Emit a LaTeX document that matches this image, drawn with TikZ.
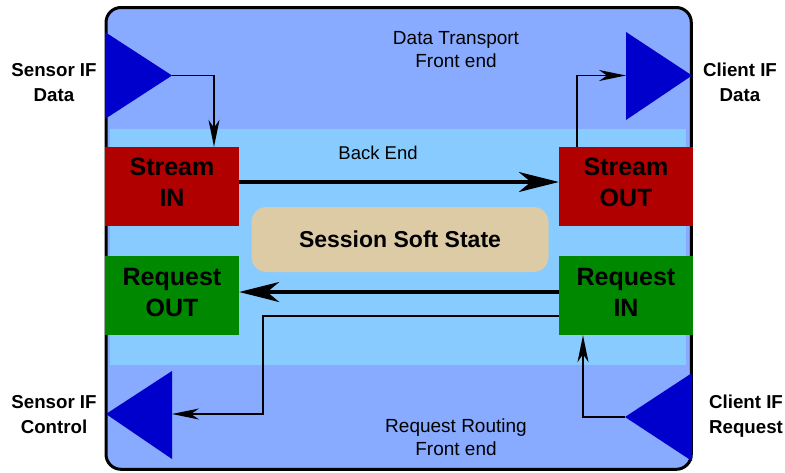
\documentclass[tikz,border=0pt]{standalone}
\usepackage{fontspec}
\setmainfont{Liberation Sans}
\usetikzlibrary{arrows.meta}
\definecolor{outerblue}{HTML}{88AAFF}
\definecolor{bandblue}{HTML}{88CCFF}
\definecolor{streamred}{HTML}{B00000}
\definecolor{reqgreen}{HTML}{008800}
\definecolor{triblue}{HTML}{0000CC}
\definecolor{sessiontan}{HTML}{DDCBA6}
\tikzset{
  unitbox/.style={draw=none, minimum width=134pt, minimum height=79pt, inner sep=0pt, align=center,
    font=\fontsize{25}{31}\selectfont\bfseries},
  streambox/.style={unitbox, fill=streamred},
  reqbox/.style={unitbox, fill=reqgreen},
  sidelabel/.style={align=center, inner sep=0pt, font=\fontsize{18.7}{25}\selectfont\bfseries},
  zonelabel/.style={align=center, inner sep=0pt, font=\fontsize{19}{23}\selectfont},
  thinarrow/.style={line width=1.6pt, -{Stealth[length=27pt,width=11pt,inset=8pt]}},
  thickarrow/.style={line width=3.5pt, -{Stealth[length=40pt,width=20pt,inset=12pt]}},
  tri/.style={fill=triblue, draw=none}
}
\begin{document}
\begin{tikzpicture}[x=1pt,y=-1pt]
\useasboundingbox (0,0) rectangle (785,472);
% outer box and back-end band
\draw[line width=3pt, fill=outerblue, rounded corners=15pt] (106,7.5) rectangle (691.3,469.3);
\fill[bandblue] (110,129) rectangle (686,365);
% interface triangles
\fill[tri] (105,32) -- (172,75.5) -- (105,119) -- cycle;
\fill[tri] (626,32) -- (692,75.5) -- (626,120) -- cycle;
\fill[tri] (106,414) -- (172,371) -- (172,459) -- cycle;
\fill[tri] (625,417) -- (692,373) -- (692,461) -- cycle;
\coordinate (sdata) at (172,75.5);
\coordinate (cdata) at (626,75.5);
\coordinate (sctrl) at (172,414);
\coordinate (creq) at (625,417);
\coordinate (bend) at (263,414);
% boxes
\node[streambox] (sin) at (172,186.5) {Stream\\IN\rule[-8pt]{0pt}{0pt}};
\node[streambox] (sout) at (626,186.5) {Stream\\OUT\rule[-8pt]{0pt}{0pt}};
\node[reqbox] (rout) at (172,295.5) {Request\\OUT\rule[-7pt]{0pt}{0pt}};
\node[reqbox] (rin) at (626,295.5) {Request\\IN\rule[-7pt]{0pt}{0pt}};
\node[fill=sessiontan, rounded corners=15pt, minimum width=297pt, minimum height=65pt, inner sep=0pt,
  font=\fontsize{23}{28}\selectfont\bfseries] (sess) at (400,239.5) {Session Soft State};
% zone labels
\node[zonelabel] (dtl) at (456,50) {Data Transport\\Front end};
\node[zonelabel, font=\fontsize{18.5}{23}\selectfont] (bel) at (378,153) {Back End};
\node[zonelabel] (rrl) at (456,437) {Request Routing\\Front end};
% side labels
\node[sidelabel] (l1) at (54,82.5) {Sensor IF\\Data};
\node[sidelabel] (l2) at (740,82.5) {Client IF\\Data};
\node[sidelabel] (l3) at (54,415) {Sensor IF\\Control};
\node[sidelabel] (l4) at (746,416) {Client IF\\Request};
% connectors
\draw[thinarrow] (sdata) -| ([xshift=42pt]sin.north);
\draw[thickarrow] ([yshift=4.5pt]sin.east) -- ([yshift=4.5pt]sout.west);
\draw[thinarrow] ([xshift=-49pt]sout.north) |- (cdata);
\draw[thickarrow] ([yshift=3.5pt]rin.west) -- ([yshift=3.5pt]rout.east);
\draw[thinarrow] ([yshift=-20.5pt]rin.west) -| (bend) -- (sctrl);
\draw[thinarrow] (creq) -| ([xshift=-43pt]rin.south);
\end{tikzpicture}
\end{document}
